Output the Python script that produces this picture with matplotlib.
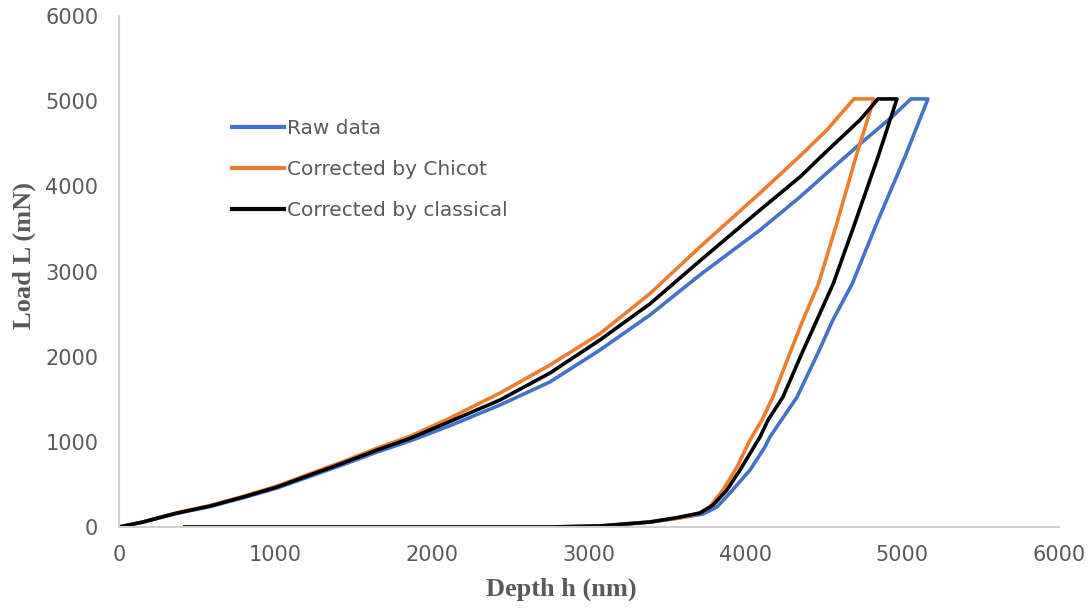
import matplotlib
matplotlib.use('Agg')
import matplotlib.pyplot as plt

# values (depth in nm, load in mN)
raw_h = [0, 153, 370, 581, 792, 1009, 1219, 1430, 1647, 1857, 2113, 2432, 2751, 3070, 3389, 3708,
         4092, 4347, 4519, 4730, 4941, 5055,
         5164,
         5017, 4838, 4679, 4557, 4462, 4328, 4155, 4123, 4028, 3900, 3817, 3728,
         3549, 3389, 3070, 2751, 421]
raw_L = [0, 57, 160, 240, 343, 458, 595, 732, 880, 1010, 1190, 1433, 1703, 2078, 2489, 2959,
         3487, 3875, 4157, 4497, 4826, 5026,
         5026,
         4345, 3570, 2850, 2431, 2043, 1526, 1057, 939, 669, 399, 235, 153,
         100, 57, 10, 0, 0]

chicot_h = [0, 153, 370, 581, 792, 1009, 1219, 1430, 1647, 1857, 2113, 2432, 2751, 3070, 3389, 3708,
            4092, 4347, 4519, 4691,
            4819,
            4704, 4583, 4466, 4366, 4283, 4174, 4104, 4028, 3945, 3855, 3772, 3708,
            3581, 3389, 3070, 2751, 421]
chicot_L = [0, 60, 168, 252, 360, 480, 625, 768, 925, 1065, 1280, 1573, 1902, 2270, 2740, 3288,
            3922, 4356, 4662, 5026,
            5026,
            4345, 3570, 2860, 2431, 2043, 1526, 1256, 1022, 705, 434, 235, 164,
            106, 60, 14, 0, 0]

classical_h = [0, 153, 370, 581, 792, 1009, 1219, 1430, 1647, 1857, 2113, 2432, 2751, 3070, 3389, 3708,
               4092, 4347, 4519, 4730, 4845,
               4966,
               4845, 4698, 4560, 4455, 4360, 4238, 4143, 4092, 3964, 3881, 3792, 3708,
               3549, 3389, 3070, 2751, 421]
classical_L = [0, 59, 164, 246, 352, 470, 611, 751, 904, 1040, 1240, 1491, 1808, 2196, 2620, 3125,
               3722, 4110, 4415, 4779, 5026,
               5026,
               4345, 3570, 2860, 2431, 2043, 1526, 1256, 1057, 669, 434, 258, 164,
               106, 59, 12, 0, 0]

labels = ['Raw data', 'Corrected by Chicot', 'Corrected by classical']
colors = ['#4472C4', '#ED7D31', '#000000']

fig = plt.figure(figsize=(10.92, 6.08), dpi=100)
ax = fig.add_axes([0.109, 0.1332, 0.8607, 0.8405])

ax.plot(raw_h, raw_L, color=colors[0], lw=2.6, label=labels[0], solid_joinstyle='round')
ax.plot(chicot_h, chicot_L, color=colors[1], lw=2.6, label=labels[1], solid_joinstyle='round')
ax.plot(classical_h, classical_L, color=colors[2], lw=2.6, label=labels[2], solid_joinstyle='round')

ax.set_xlim(0, 6000)
ax.set_ylim(0, 6000)
ax.set_xticks(range(0, 6001, 1000))
ax.set_yticks(range(0, 6001, 1000))

for side in ['top', 'right']:
    ax.spines[side].set_visible(False)
for side in ['left', 'bottom']:
    ax.spines[side].set_color('#D0D0D0')
    ax.spines[side].set_linewidth(1.5)

ax.tick_params(length=0, labelsize=15, labelcolor='#595959')
ax.tick_params(axis='x', pad=13)
ax.tick_params(axis='y', pad=15)

ax.set_xlabel('Depth h (nm)', family='Liberation Serif', fontweight='bold',
              fontsize=19, color='#595959')
ax.set_ylabel('Load L (mN)', family='Liberation Serif', fontweight='bold',
              fontsize=19, color='#595959')
ax.xaxis.set_label_coords(0.471, -0.098)
ax.yaxis.set_label_coords(-0.088, 0.532)

leg = ax.legend(loc='upper left', bbox_to_anchor=(0.1114, 0.815), frameon=False,
                fontsize=14.5, handlelength=2.6, handletextpad=0.15,
                labelspacing=1.11, borderaxespad=0)
for t in leg.get_texts():
    t.set_color('#595959')
for h in leg.get_lines():
    h.set_linewidth(3)

fig.savefig('out.png', dpi=100)
